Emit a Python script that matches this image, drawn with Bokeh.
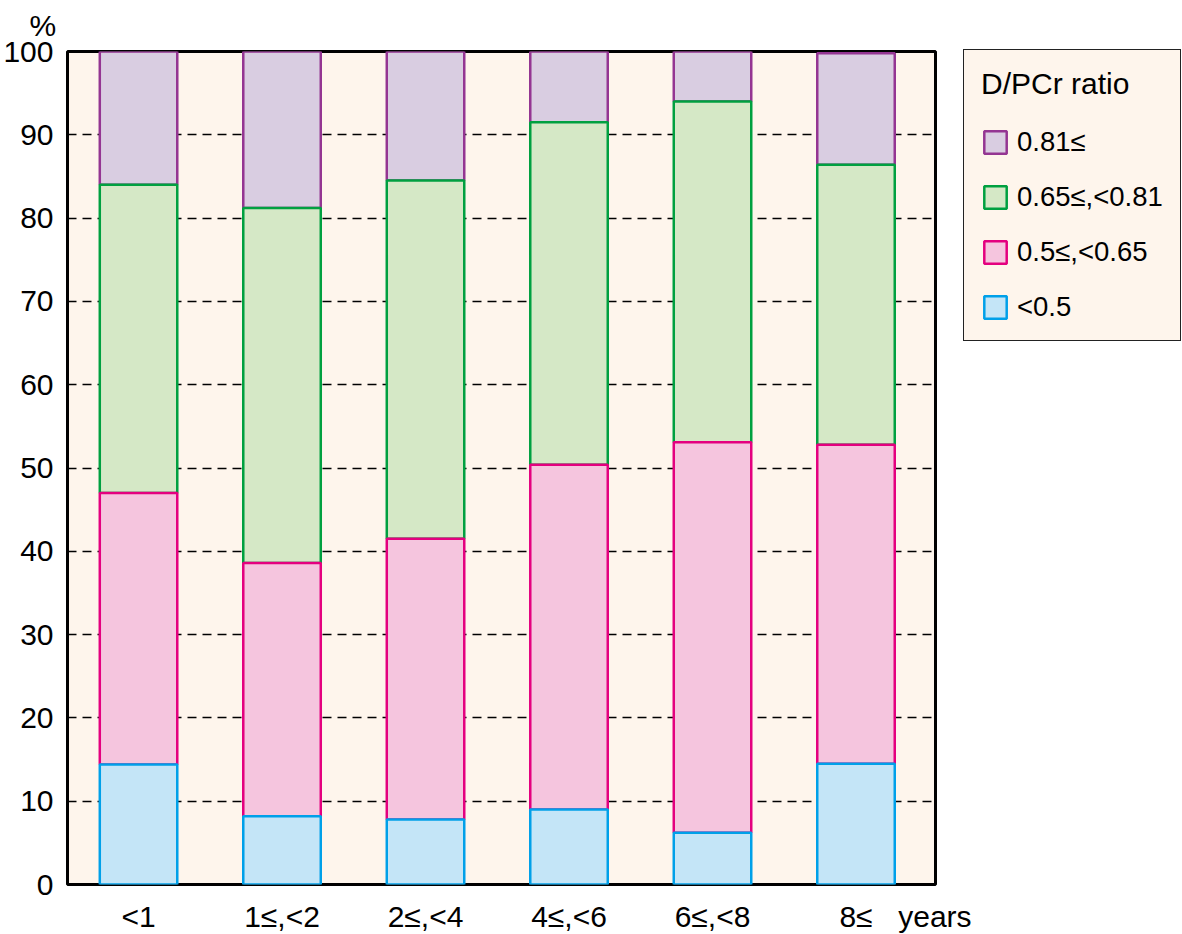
from bokeh.plotting import figure
from bokeh.models import (Range1d, FixedTicker, Legend, LegendItem, Title)
from bokeh.embed import file_html
from bokeh.resources import INLINE

# ---- data ----
categories = ["<1", "1\u2264,<2", "2\u2264,<4", "4\u2264,<6", "6\u2264,<8", "8\u2264"]
series_names = ["<0.5", "0.5\u2264,<0.65", "0.65\u2264,<0.81", "0.81\u2264"]
lt_05 = [14.4, 8.2, 7.8, 9.0, 6.2, 14.5]
r05_065 = [32.6, 30.4, 33.7, 41.4, 46.9, 38.3]
r065_081 = [37.0, 42.6, 43.0, 41.1, 40.9, 33.6]
ge_081 = [16.0, 18.8, 15.5, 8.5, 6.0, 13.4]
y_ticks = [0, 10, 20, 30, 40, 50, 60, 70, 80, 90, 100]
legend_title = "D/PCr ratio"
y_unit = "%"
x_unit = "years"

fills = ["#c4e5f7", "#f5c5de", "#d5e8c6", "#d9cde1"]
lines = ["#00a0e9", "#e4007f", "#00a040", "#943592"]
BG = "#fef5ec"
FONT = "Liberation Sans"

series = [lt_05, r05_065, r065_081, ge_081]
xs = list(range(len(categories)))
X_END = 5.554

p = figure(frame_width=868, frame_height=833,
           x_range=Range1d(-0.495, X_END), y_range=Range1d(0, 100),
           output_backend="svg", toolbar_location=None,
           min_border_left=65, min_border_top=50, min_border_bottom=0,
           min_border_right=0)
p.background_fill_color = BG
p.border_fill_color = "white"
p.outline_line_color = "black"
p.outline_line_width = 3

# stacked segments
bottoms = [0.0] * len(categories)
segs = []
for vals in series:
    tops = [b + v for b, v in zip(bottoms, vals)]
    segs.append((list(bottoms), tops))
    bottoms = tops

renderers = [None] * 4
for i in reversed(range(4)):
    b, t = segs[i]
    renderers[i] = p.vbar(x=xs, width=0.54, bottom=b, top=t,
                          fill_color=fills[i], line_color=lines[i], line_width=2.5)

# axes
unit_tick = 5.55
p.xaxis.ticker = FixedTicker(ticks=xs + [unit_tick])
overrides = {i: c for i, c in enumerate(categories)}
overrides[unit_tick] = x_unit
p.xaxis.major_label_overrides = overrides
p.yaxis.ticker = FixedTicker(ticks=y_ticks)
for ax in (p.xaxis[0], p.yaxis[0]):
    ax.axis_line_color = None
    ax.major_tick_line_color = None
    ax.minor_tick_line_color = None
    ax.major_tick_out = 0
    ax.major_tick_in = 0
    ax.major_label_text_font = FONT
    ax.major_label_text_font_size = "30px"
    ax.major_label_text_color = "black"
p.yaxis.major_label_standoff = 14
p.xaxis.major_label_standoff = 15

p.xgrid.visible = False
p.ygrid.ticker = FixedTicker(ticks=y_ticks[1:-1])
p.ygrid.grid_line_color = "black"
p.ygrid.grid_line_dash = "9 6"
p.ygrid.grid_line_width = 1.5

p.add_layout(Title(text=y_unit, align="left", offset=-38, standoff=16,
                   vertical_align="top",
                   text_font=FONT, text_font_size="30px",
                   text_font_style="normal", text_color="black"), "above")

items = [LegendItem(label=series_names[i], renderers=[renderers[i]]) for i in (3, 2, 1, 0)]
legend = Legend(items=items, title=legend_title, location=(28, 543), margin=14,
                padding=17, spacing=23, glyph_width=28, glyph_height=28,
                label_height=32, label_standoff=8, title_standoff=25,
                title_text_font=FONT, title_text_font_size="30px",
                title_text_font_style="normal", title_text_color="black",
                label_text_font=FONT, label_text_color="black",
                label_text_font_size="27.5px", border_line_color="#222222",
                border_line_width=1.5, border_line_alpha=1.0,
                background_fill_color=BG, background_fill_alpha=1.0)
p.add_layout(legend, "right")

open("out.html", "w").write(file_html(p, INLINE))
